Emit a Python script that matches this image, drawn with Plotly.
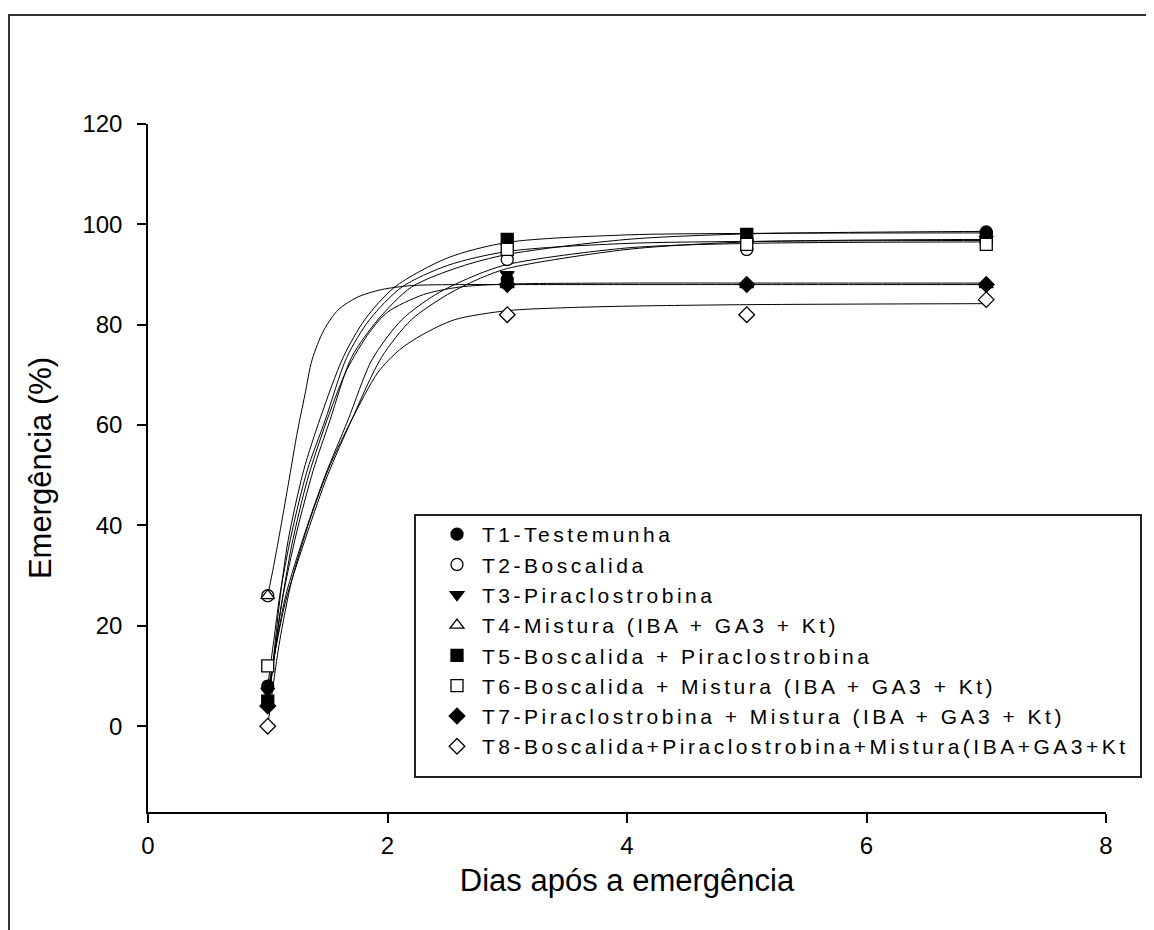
import plotly.graph_objects as go

# ---------------- data ----------------
days = [1, 3, 5, 7]

names = [
    "T1-Testemunha",
    "T2-Boscalida",
    "T3-Piraclostrobina",
    "T4-Mistura (IBA + GA3 + Kt)",
    "T5-Boscalida + Piraclostrobina",
    "T6-Boscalida + Mistura (IBA + GA3 + Kt)",
    "T7-Piraclostrobina + Mistura (IBA + GA3 + Kt)",
    "T8-Boscalida+Piraclostrobina+Mistura(IBA+GA3+Kt",
]

t1_y = [8, 89, 97, 98.5]
t2_y = [26, 93, 95, 96.5]
t3_y = [7, 90, 96, 97]
t4_y = [26, 88, 88, 88]
t5_y = [5, 97, 98, 97.5]
t6_y = [12, 95, 96, 96]
t7_y = [4, 88, 88, 88]
t8_y = [0, 82, 82, 85]

# fitted curves
fit_t1_x = [1.0, 1.06, 1.12, 1.24, 1.38, 1.52, 1.70, 1.92, 2.2, 2.6, 3, 4, 5, 7]
fit_t1_y = [4, 15, 25, 38.5, 51, 61, 73.5, 81, 87.5, 91.5, 94, 97, 98.1, 98.6]

fit_t2_x = [1.0, 1.07, 1.15, 1.31, 1.48, 1.67, 1.87, 2.12, 2.4, 2.7, 3, 4, 5, 7]
fit_t2_y = [6, 16, 26, 38.5, 50, 61, 73, 81, 86, 89.5, 92, 95.3, 96.2, 96.5]

fit_t3_x = [1.0, 1.07, 1.15, 1.33, 1.5, 1.70, 1.95, 2.20, 2.5, 2.75, 3, 4, 5, 7]
fit_t3_y = [7, 16, 25, 38.5, 50, 61, 73.5, 81, 86, 89, 91.2, 95, 96.5, 97]

fit_t4_x = [1.0, 1.05, 1.1, 1.17, 1.25, 1.31, 1.37, 1.47, 1.59, 1.75, 1.95, 2.2, 2.6, 3, 4, 5, 7]
fit_t4_y = [26, 32, 38.5, 48, 59, 66, 73, 79, 83, 85.5, 87, 87.8, 88, 88, 88, 88, 88]

fit_t5_x = [1.0, 1.05, 1.1, 1.17, 1.3, 1.44, 1.63, 1.81, 2.06, 2.5, 3, 4, 5, 7]
fit_t5_y = [3, 14, 25, 37, 51, 61.5, 73.5, 81, 87.5, 93.3, 96.4, 97.9, 98.2, 98.3]

fit_t6_x = [1.0, 1.05, 1.1, 1.2, 1.33, 1.48, 1.66, 1.85, 2.12, 2.5, 3, 4, 5, 7]
fit_t6_y = [8, 17, 26, 38.5, 51, 61, 73.5, 81, 87.5, 91.8, 94.6, 96.2, 96.6, 96.8]

fit_t7_x = [1.0, 1.05, 1.1, 1.2, 1.33, 1.48, 1.66, 1.85, 2.0, 2.3, 2.6, 3, 4, 5, 7]
fit_t7_y = [4, 13, 22, 36, 49, 60, 71, 78.5, 82.5, 86, 87.5, 88.1, 88.3, 88.3, 88.3]

fit_t8_x = [1.0, 1.05, 1.1, 1.2, 1.35, 1.52, 1.70, 1.92, 2.1, 2.29, 2.56, 3, 3.5, 4, 5, 7]
fit_t8_y = [0, 9, 17, 29, 41, 52, 61, 70.5, 75, 78, 81, 82.8, 83.4, 83.7, 84, 84.2]

x_ticks = [0, 2, 4, 6, 8]
y_ticks = [0, 20, 40, 60, 80, 100, 120]

# ---------------- figure ----------------
series_y = [t1_y, t2_y, t3_y, t4_y, t5_y, t6_y, t7_y, t8_y]
fits = [(fit_t1_x, fit_t1_y), (fit_t2_x, fit_t2_y), (fit_t3_x, fit_t3_y), (fit_t4_x, fit_t4_y),
        (fit_t5_x, fit_t5_y), (fit_t6_x, fit_t6_y), (fit_t7_x, fit_t7_y), (fit_t8_x, fit_t8_y)]
symbols = ["circle", "circle", "triangle-down", "triangle-up", "square", "square", "diamond", "diamond"]
filled = [True, False, True, False, True, False, True, False]

fig = go.Figure()
for fx, fy in fits:
    fig.add_trace(go.Scatter(x=fx, y=fy, mode="lines", showlegend=False,
                             line=dict(color="black", width=1, shape="spline", smoothing=0.8),
                             hoverinfo="skip"))

for i, (nm, ys) in enumerate(zip(names, series_y)):
    fig.add_trace(go.Scatter(
        x=days, y=ys, mode="markers",
        name=f'<span style="letter-spacing:3.5px">{nm}</span>',
        legendgroup=f"g{i}",
        marker=dict(symbol=symbols[i], size=12,
                    color="black" if filled[i] else "white",
                    line=dict(color="black", width=1.3)),
    ))

FONT = "Liberation Sans, Arial, sans-serif"
OFF = 8  # page body margin
W, H = 1154 - OFF, 930 - OFF
L, T = 148 - OFF, 124 - OFF
R = W - (1106 - OFF)
B = H - (812 - OFF)
pw, ph = W - L - R, H - T - B


def px_x(p):
    return (p - OFF - L) / pw


def px_y(p):
    return (H - B - (p - OFF)) / ph


fig.update_layout(
    width=W, height=H,
    margin=dict(l=L, r=R, t=T, b=B, autoexpand=False),
    paper_bgcolor="white", plot_bgcolor="white",
    font=dict(family=FONT, color="black", size=22),
    showlegend=True,
    legend=dict(x=px_x(432), y=px_y(514), xanchor="left", yanchor="top",
                bgcolor="rgba(0,0,0,0)", borderwidth=0,
                font=dict(family=FONT, size=21, color="black"),
                tracegroupgap=0, itemwidth=40),
    xaxis=dict(range=[0, 8], tickvals=x_ticks, showgrid=False, zeroline=False,
               showline=True, linecolor="black", linewidth=1.5,
               ticks="outside", ticklen=9, tickwidth=1.5, tickcolor="black",
               tickfont=dict(size=24), ticklabelstandoff=2,
               title=dict(text="Dias após a emergência", font=dict(size=31), standoff=12)),
    yaxis=dict(range=[-17.1, 120], tickvals=y_ticks, showgrid=False, zeroline=False,
               showline=True, linecolor="black", linewidth=1.5,
               ticks="outside", ticklen=9, tickwidth=1.5, tickcolor="black",
               tickfont=dict(size=24), ticklabelstandoff=10,
               title=dict(text="Emergência (%)", font=dict(size=31), standoff=22)),
    shapes=[
        # legend box
        dict(type="rect", xref="paper", yref="paper",
             x0=px_x(415), x1=px_x(1141), y0=px_y(777), y1=px_y(515),
             line=dict(color="#222222", width=2), fillcolor="rgba(0,0,0,0)", layer="below"),
        # outer frame
        dict(type="rect", xref="paper", yref="paper",
             x0=px_x(9), x1=px_x(1151), y0=px_y(945), y1=px_y(15),
             line=dict(color="#333333", width=2), fillcolor="rgba(0,0,0,0)", layer="below"),
    ],
)

fig.write_html("out.html")
